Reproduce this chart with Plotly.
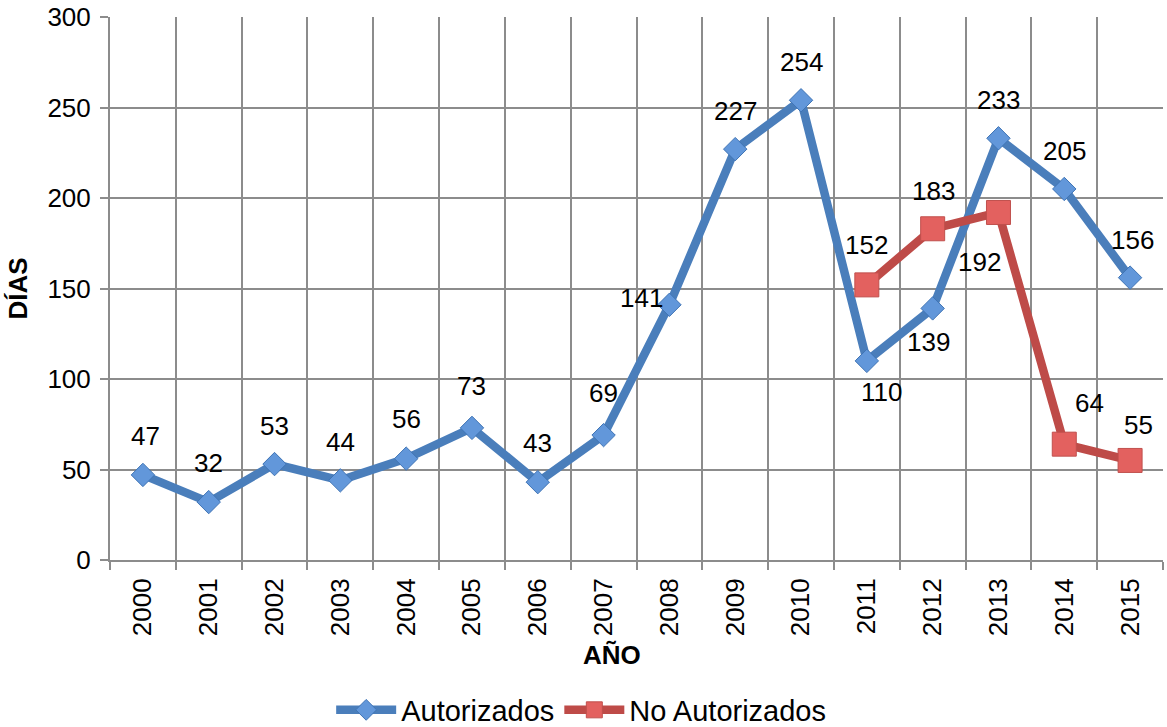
import plotly.graph_objects as go

years = ["2000", "2001", "2002", "2003", "2004", "2005", "2006", "2007",
         "2008", "2009", "2010", "2011", "2012", "2013", "2014", "2015"]
autorizados = [47, 32, 53, 44, 56, 73, 43, 69, 141, 227, 254, 110, 139, 233, 205, 156]
no_autorizados = [None, None, None, None, None, None, None, None,
                  None, None, None, 152, 183, 192, 64, 55]
y_ticks = [0, 50, 100, 150, 200, 250, 300]

# label offsets in pixels (dx, dy) - styling only
auto_off = [(3, 39), (0, 39), (0, 38), (0, 38), (0, 40), (0, 42), (0, 39), (0, 42),
            (-28, 7), (0, 38), (0, 38), (15, -31), (-4, -34), (0, 38), (0, 38), (2, 38)]
no_off = {11: (0, 40), 12: (1, 38), 13: (-19, -50), 14: (25, 41), 15: (8, 35)}

FONT = "Liberation Sans, Arial, sans-serif"
BLUE_LINE = "#4A7EBB"
RED_LINE = "#BE4B48"
GRID = "#8C8C8C"

fig = go.Figure()
fig.add_trace(go.Scatter(
    x=years, y=autorizados, name="Autorizados", mode="lines+markers",
    line=dict(color=BLUE_LINE, width=8.5),
    marker=dict(symbol="diamond", size=18, color="#6297DA",
                line=dict(color="#3F74B5", width=1)),
))
fig.add_trace(go.Scatter(
    x=years, y=no_autorizados, name="No Autorizados", mode="lines+markers",
    line=dict(color=RED_LINE, width=8.5),
    marker=dict(symbol="square", size=24, color="#E3615F",
                line=dict(color="#C0504D", width=1)),
    connectgaps=False,
))

annotations = []
for i, v in enumerate(autorizados):
    dx, dy = auto_off[i]
    annotations.append(dict(x=i, y=v, text=str(v), showarrow=False,
                            xshift=dx, yshift=dy,
                            font=dict(family=FONT, size=26, color="#000")))
for i, v in enumerate(no_autorizados):
    if v is None:
        continue
    dx, dy = no_off[i]
    annotations.append(dict(x=i, y=v, text=str(v), showarrow=False,
                            xshift=dx, yshift=dy,
                            font=dict(family=FONT, size=26, color="#000")))

annotations.append(dict(xref="paper", yref="paper", x=0.477, y=-0.175,
                        text="<b>AÑO</b>", showarrow=False,
                        xanchor="center", yanchor="middle",
                        font=dict(family=FONT, size=26, color="#000")))
annotations.append(dict(xref="paper", yref="paper", x=-0.0874, y=0.5,
                        text="<b>DÍAS</b>", showarrow=False, textangle=-90,
                        xanchor="center", yanchor="middle",
                        font=dict(family=FONT, size=26, color="#000")))

fig.update_layout(
    width=1167, height=727,
    margin=dict(l=110, r=4, t=17, b=167),
    paper_bgcolor="white", plot_bgcolor="white",
    font=dict(family=FONT, size=26, color="#000"),
    showlegend=True,
    legend=dict(orientation="h", xref="container", yref="container",
                x=0.498, y=0.0234, xanchor="center", yanchor="middle",
                font=dict(family=FONT, size=29, color="#000"),
                itemwidth=60, tracegroupgap=0),
    annotations=annotations,
)
fig.update_xaxes(
    type="category", categoryorder="array", categoryarray=years,
    range=[-0.5, 15.5], tickson="boundaries", automargin=False,
    showgrid=True, gridcolor=GRID, gridwidth=1.5,
    showline=True, linecolor=GRID, linewidth=2,
    ticks="outside", ticklen=8, tickcolor=GRID, tickwidth=1.5,
    tickangle=-90, tickfont=dict(family=FONT, size=26, color="#000"),
    ticklabelstandoff=6, mirror=False, zeroline=False,
)
fig.update_yaxes(
    range=[0, 300], tickvals=y_ticks, automargin=False,
    showgrid=True, gridcolor=GRID, gridwidth=1.5,
    showline=True, linecolor=GRID, linewidth=2,
    ticks="outside", ticklen=8, tickcolor=GRID, tickwidth=1.5,
    tickfont=dict(family=FONT, size=26, color="#000"),
    ticklabelstandoff=4, zeroline=False,
)

fig.write_html(
    "out.html",
    config={"displayModeBar": False},
    post_script="document.body.style.margin='0';document.body.style.overflow='hidden';",
)
